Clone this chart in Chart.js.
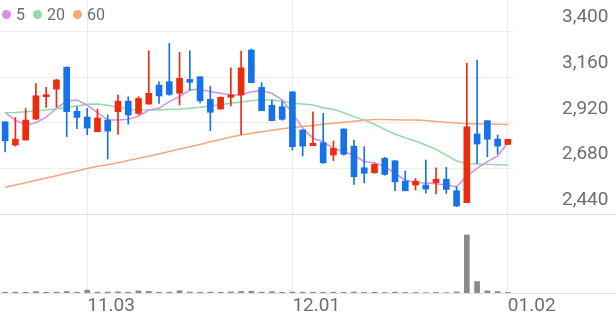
<!DOCTYPE html>
<html>
<head>
<meta charset="utf-8">
<script src="https://cdn.jsdelivr.net/npm/chart.js@4.4.1/dist/chart.umd.min.js"></script>
<style>
  html, body { margin: 0; padding: 0; background: #fff; }
  #wrap { position: relative; width: 616px; height: 321px; }
  #legend { position: absolute; left: 2px; top: 5px; display: flex; align-items: center;
            font: 16px Roboto, sans-serif; color: #6e6e6e; }
  #legend .dot { display: inline-block; width: 9px; height: 9px; border-radius: 50%; margin-right: 5px; }
  #legend .lbl { margin-right: 8px; }
</style>
</head>
<body>
<div id="wrap">
  <canvas id="chart" width="616" height="321"></canvas>
  <div id="legend"></div>
</div>
<script>
const dates = ['10.24','10.25','10.26','10.27','10.28','10.31','11.01','11.02','11.03','11.04',
  '11.07','11.08','11.09','11.10','11.11','11.14','11.15','11.16','11.17','11.18',
  '11.21','11.22','11.23','11.24','11.25','11.28','11.29','11.30','12.01','12.02',
  '12.05','12.06','12.07','12.08','12.09','12.12','12.13','12.14','12.15','12.16',
  '12.19','12.20','12.21','12.22','12.23','12.26','12.27','12.28','12.29','01.02'];

const opens  = [2926,2804,2830,2940,3058,3098,3213,2981,2951,2874, 2935,2979,3035,2970,3019,3119,3137,3076,3149,3163,
                3044,2993,3055,3067,3304,3107,3013,3005,3084,2883, 2800,2816,2751,2888,2798,2684,2658,2734,2721,2614,
                2593,2593,2606,2624,2563,2500,2862,2932,2835,2807];
const highs  = [2926,2949,2996,3127,3107,3150,3216,3005,2996,2993, 2962,3067,3058,3058,3300,3137,3339,3292,3300,3163,
                3114,3057,3210,3298,3309,3132,3040,3032,3084,2883, 2979,2970,2825,2890,2830,2795,2707,2739,2721,2667,
                2628,2725,2684,2686,2584,3234,3251,2932,2856,2834];
const lows   = [2767,2798,2830,2939,3002,3004,2848,2890,2858,2874, 2730,2860,2913,2962,3019,3023,3065,3014,3093,3026,
                2879,2993,3009,2860,3132,2984,2932,2935,2777,2746, 2800,2707,2721,2750,2597,2605,2655,2645,2563,2563,
                2567,2551,2546,2549,2479,2500,2707,2742,2756,2807];
const closes = [2826,2835,2935,3063,3067,3146,2979,2949,2893,2946, 2877,3035,2962,3049,3076,3062,3070,3155,3134,3037,
                2976,3055,3067,3210,3132,2984,2932,2939,2795,2798, 2813,2710,2786,2755,2637,2655,2702,2649,2610,2563,
                2614,2572,2624,2570,2483,2900,2809,2834,2798,2834];

const ma5  = [2974,2935,2909,2921,2950,2997,3035,3041,3014,2974, 2935,2935,2939,2956,2988,2997,3032,3058,3093,3097,
              3084,3076,3067,3067,3084,3090,3076,3041,2971,2893, 2839,2821,2786,2768,2751,2716,2710,2690,2655,2620,
              2605,2604,2600,2593,2584,2640,2681,2716,2746,2816];
const ma20 = [2974,2975,2979,2983,2988,2993,3002,3009,3018,3020, 3013,3002,2992,2988,2988,2988,2992,2993,2997,3002,
              3009,3016,3023,3030,3037,3041,3041,3035,3023,3020, 3014,3000,2992,2974,2953,2935,2913,2886,2862,2842,
              2825,2804,2781,2751,2720,2707,2704,2702,2700,2698];
const ma60 = [2581,2593,2605,2618,2630,2642,2655,2667,2680,2692, 2700,2711,2722,2734,2745,2757,2770,2783,2795,2807,
              2821,2833,2846,2857,2866,2874,2881,2889,2896,2901, 2907,2913,2918,2924,2929,2934,2938,2938,2937,2936,
              2935,2933,2928,2923,2920,2917,2915,2914,2913,2912];

const volumes = [40000,45000,35000,70000,40000,45000,75000,40000,150000,45000,
                 50000,60000,40000,110000,85000,40000,45000,115000,50000,40000,
                 45000,40000,55000,80000,90000,45000,70000,35000,50000,45000,
                 40000,38000,42000,35000,50000,30000,40000,25000,45000,30000,
                 25000,20000,28000,22000,55000,3000000,590000,110000,75000,30000];

const maLabels = ['5', '20', '60'];
const priceTicks = [2440, 2680, 2920, 3160, 3400];
const dateTicks = ['11.03', '12.01', '01.02'];

const UP = '#ec2c0e', DOWN = '#1672e6';
const maColors = ['#d48fe8', '#93dba4', '#f7a57e'];
const axisFont = { family: 'Roboto', size: 19 };
const textColor = '#6e6e6e';

// legend (html overlay)
document.getElementById('legend').innerHTML = maLabels.map((l, i) =>
  `<span class="dot" style="background:${maColors[i]}"></span><span class="lbl">${l}</span>`).join('');

const candleColors = closes.map((c, i) => c >= opens[i] ? UP : DOWN);
const volMax = Math.max(...volumes);

// full-width divider lines (price / volume split and bottom axis)
const dividers = {
  id: 'dividers',
  beforeDatasetsDraw(chart) {
    const { ctx, chartArea, width, scales } = chart;
    ctx.save();
    ctx.strokeStyle = '#e2e2e2';
    ctx.lineWidth = 1;
    [scales.y.getPixelForValue(priceTicks[0]), chartArea.bottom].forEach(py => {
      const yy = Math.round(py) + 0.5;
      ctx.beginPath();
      ctx.moveTo(0, yy);
      ctx.lineTo(width, yy);
      ctx.stroke();
    });
    ctx.restore();
  }
};

new Chart(document.getElementById('chart'), {
  type: 'bar',
  data: {
    labels: dates,
    datasets: [
      { label: 'body', data: opens.map((o, i) => [o, closes[i]]), backgroundColor: candleColors,
        barThickness: 6, minBarLength: 2, grouped: false, yAxisID: 'y', order: 0 },
      { label: 'wick', data: lows.map((l, i) => [l, highs[i]]), backgroundColor: candleColors,
        barThickness: 1, grouped: false, yAxisID: 'y', order: 1 },
      { type: 'line', label: maLabels[0], data: ma5, borderColor: maColors[0], borderWidth: 1.5,
        pointRadius: 0, tension: 0, yAxisID: 'y', order: 2 },
      { type: 'line', label: maLabels[1], data: ma20, borderColor: maColors[1], borderWidth: 1.5,
        pointRadius: 0, tension: 0, yAxisID: 'y', order: 3 },
      { type: 'line', label: maLabels[2], data: ma60, borderColor: maColors[2], borderWidth: 1.5,
        pointRadius: 0, tension: 0, yAxisID: 'y', order: 4 },
      { label: 'volume', data: volumes, backgroundColor: '#8a8a8a', barThickness: 5,
        grouped: false, yAxisID: 'yv', order: 5 }
    ]
  },
  options: {
    responsive: false,
    animation: false,
    layout: { padding: 0 },
    plugins: { legend: { display: false }, tooltip: { enabled: false } },
    scales: {
      x: {
        offset: true,
        grid: { offset: false, drawTicks: false,
                color: c => c.tick && dateTicks.includes(dates[c.tick.value]) ? '#ececec' : 'transparent' },
        border: { display: false },
        ticks: { autoSkip: false, maxRotation: 0, align: 'start', padding: 2, font: axisFont, color: textColor,
                 callback: v => dateTicks.includes(dates[v]) ? dates[v] : null },
        afterFit(s) { s.height = 28; s.paddingLeft = 0; s.paddingRight = 0; }
      },
      y: {
        position: 'right',
        min: 2025, max: 3567,
        afterBuildTicks(s) { s.ticks = priceTicks.map(v => ({ value: v })); },
        grid: { drawTicks: false, color: '#eeeeee' },
        border: { display: false },
        ticks: { padding: 49, labelOffset: -14, font: axisFont, color: textColor,
                 callback: v => v.toLocaleString('en-US') },
        afterFit(s) { s.width = 103; s.paddingTop = 0; s.paddingBottom = 0; }
      },
      yv: { display: false, min: 0, max: volMax * 5.05 }
    }
  },
  plugins: [dividers]
});
</script>
</body>
</html>
